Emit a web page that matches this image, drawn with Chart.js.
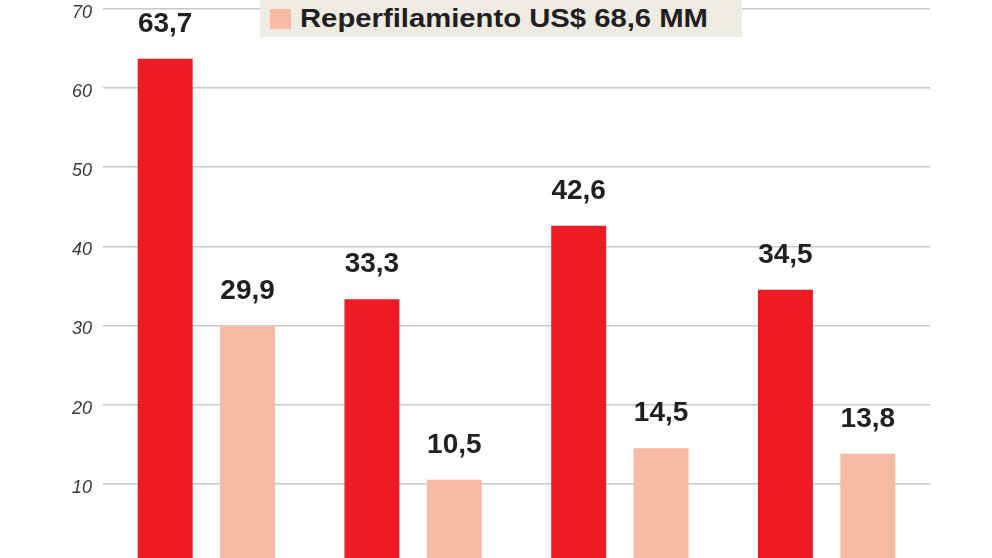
<!DOCTYPE html>
<html lang="es">
<head>
<meta charset="utf-8">
<title>Reperfilamiento</title>
<script src="https://cdn.jsdelivr.net/npm/chart.js@4.4.1/dist/chart.umd.min.js"></script>
<style>
    html, body { margin: 0; padding: 0; background: #fff; overflow: hidden; }
    #wrap { position: absolute; left: 0; top: -13px; width: 992px; height: 600px; }
    #leyenda {
        position: absolute; left: 260px; top: 0; width: 482px; height: 37px;
        background: #EEEBE2; box-sizing: border-box;
        font: bold 25px 'Liberation Sans', Arial, sans-serif; color: #231F20;
        line-height: 37px; padding-left: 40px; white-space: nowrap;
    }
    #leyenda .cuadro {
        position: absolute; left: 10px; top: 9px; width: 21px; height: 20px;
        background: #F7BAA3;
    }
    #leyenda-texto { display: inline-block; transform: scaleX(1.17); transform-origin: 0 50%; }
</style>
</head>
<body>
<div id="wrap"><canvas id="grafico"></canvas></div>
<div id="leyenda"><span class="cuadro"></span><span id="leyenda-texto"></span></div>

<script>
/* ── Datos ─────────────────────────────────────────────── */
const CATEGORIAS     = ['1', '2', '3', '4'];
const TOTAL          = [63.7, 33.3, 42.6, 34.5];
const REPERFILADO    = [29.9, 10.5, 14.5, 13.8];
const TICKS_Y        = [0, 10, 20, 30, 40, 50, 60, 70];
const LEYENDA        = 'Reperfilamiento US$ 68,6 MM';

const ROJO    = '#ED1C24';
const SALMON  = '#F7BAA3';
const TEXTO   = '#231F20';
const FUENTE  = "'Liberation Sans', Arial, sans-serif";

document.getElementById('leyenda-texto').textContent = LEYENDA;

const fmt = v => v.toFixed(1).replace('.', ',');

// Etiquetas de valor encima de cada barra
const etiquetas = {
    id: 'etiquetas',
    afterDatasetsDraw(chart) {
        const ctx = chart.ctx;
        ctx.save();
        ctx.font = 'bold 28px ' + FUENTE;
        ctx.fillStyle = TEXTO;
        ctx.textAlign = 'center';
        ctx.textBaseline = 'alphabetic';
        chart.data.datasets.forEach((ds, i) => {
            chart.getDatasetMeta(i).data.forEach((bar, j) => {
                ctx.fillText(fmt(ds.data[j]), bar.x, bar.y - 27);
            });
        });
        ctx.restore();
    }
};

new Chart(document.getElementById('grafico'), {
    type: 'bar',
    data: {
        labels: CATEGORIAS,
        datasets: [
            {
                label: 'Total',
                data: TOTAL,
                backgroundColor: ROJO,
                categoryPercentage: 0.797,
                barPercentage: 0.667
            },
            {
                label: LEYENDA,
                data: REPERFILADO,
                backgroundColor: SALMON,
                categoryPercentage: 0.797,
                barPercentage: 0.667
            }
        ]
    },
    options: {
        responsive: true,
        maintainAspectRatio: false,
        animation: false,
        events: [],
        layout: { padding: { left: 0, right: 62, top: 0, bottom: 24 } },
        plugins: {
            legend: { display: false },
            tooltip: { enabled: false }
        },
        scales: {
            x: {
                display: false,
                grid: { display: false }
            },
            y: {
                min: 0,
                max: 70,
                afterFit: (scale) => { scale.width = 103; },
                afterBuildTicks: (scale) => { scale.ticks = TICKS_Y.map(v => ({ value: v })); },
                border: { display: false },
                grid: { color: '#C8C8C8', lineWidth: 1.5, drawTicks: false },
                ticks: {
                    color: '#3A3A3A',
                    padding: 11,
                    labelOffset: 4,
                    font: { family: FUENTE, size: 18, style: 'italic' }
                }
            }
        }
    },
    plugins: [etiquetas]
});
</script>
</body>
</html>
